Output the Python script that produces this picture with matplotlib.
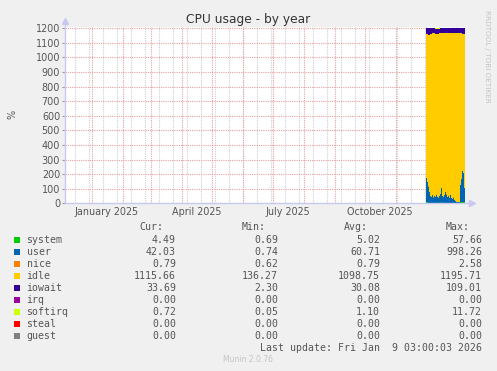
#!/usr/bin/env python3
"""Munin style CPU usage graph, yearly view."""

from datetime import datetime, timedelta

import matplotlib

matplotlib.use("Agg")
import matplotlib.dates as mdates
import matplotlib.pyplot as plt
import numpy as np
from matplotlib.patches import Rectangle

# ─── Data ───────────────────────────────────────────────────────────────────

SERIES = ["system", "user", "nice", "idle", "iowait", "irq", "softirq", "steal", "guest"]
COLORS = ["#00cc00", "#0066b3", "#ff8000", "#ffcc00", "#330099",
          "#990099", "#ccff00", "#ff0000", "#808080"]

# daily averages from 2025-12-01 onwards
system = [6, 6, 5, 5, 4, 4, 5, 4, 4, 4, 5, 4, 4, 4, 5, 7, 4, 4, 5, 5,
          5, 4, 4, 4, 5, 4, 4, 4, 4, 3, 3, 3, 3, 3, 8, 9, 10, 10, 6, 5]
user = [170, 140, 110, 70, 45, 40, 50, 35, 45, 40, 50, 40, 35, 45, 60, 95, 45, 40, 50, 70,
        55, 40, 45, 30, 50, 30, 25, 35, 20, 15, 5, 3, 3, 5, 120, 160, 210, 200, 100, 75]
nice = [0.8] * 40
idle = [987.2, 1014.2, 1041.2, 1081.2, 1109.2, 1116.2, 1113.2, 1131.2, 1121.2, 1119.2,
        1106.2, 1115.2, 1124.2, 1116.2, 1103.2, 1066.2, 1121.2, 1124.2, 1115.2, 1095.2,
        1108.2, 1122.2, 1121.2, 1134.2, 1113.2, 1136.2, 1141.2, 1129.2, 1144.2, 1152.2,
        1160.2, 1160.2, 1162.2, 1162.2, 1040.2, 999.2, 940.2, 948.2, 1057.2, 1084.2]
iowait = [35, 38, 42, 42, 40, 38, 30, 28, 28, 30, 30, 32, 30, 28, 30, 30, 28, 30, 28, 28,
          30, 32, 28, 30, 30, 28, 28, 30, 30, 28, 30, 32, 30, 28, 30, 30, 38, 40, 35, 34]
irq = [0] * 40
softirq = [1, 1, 1, 1, 1, 1, 1, 1, 1, 6, 8, 8, 6, 6, 1, 1, 1, 1, 1, 1,
           1, 1, 1, 1, 1, 1, 1, 1, 1, 1, 1, 1, 1, 1, 1, 1, 1, 1, 1, 1]
steal = [0] * 40
guest = [0] * 40

CUR = ["4.49", "42.03", "0.79", "1115.66", "33.69", "0.00", "0.72", "0.00", "0.00"]
MIN = ["0.69", "0.74", "0.62", "136.27", "2.30", "0.00", "0.05", "0.00", "0.00"]
AVG = ["5.02", "60.71", "0.79", "1098.75", "30.08", "0.00", "1.10", "0.00", "0.00"]
MAX = ["57.66", "998.26", "2.58", "1195.71", "109.01", "0.00", "11.72", "0.00", "0.00"]

Y_TICKS = list(range(0, 1300, 100))
X_LABELS = ["January 2025", "April 2025", "July 2025", "October 2025"]

DATA_START = datetime(2025, 12, 1)
END = datetime(2026, 1, 9, 3, 0, 3)
START = END - timedelta(days=400)

# ─── Style ──────────────────────────────────────────────────────────────────

W, H = 497, 371
BG = "#f0f0f0"
TXT = "#555555"
AXIS_C = "#c8c8f0"
MGRID = "#e8a0a0"
GRID = "#cfcfcf"


def fx(x):
    return x / W


def fy(y):
    return 1 - y / H


def draw_graph(fig):
    ax = fig.add_axes([fx(65), fy(203.3), 400 / W, (203.3 - 27) / H])
    ax.set_facecolor("white")
    for sp in ax.spines.values():
        sp.set_visible(False)

    days = [mdates.date2num(DATA_START + timedelta(days=i)) for i in range(len(user))]
    layers = [system, user, nice, idle, iowait, irq, softirq, steal, guest]
    bottom = np.zeros(len(days))
    for vals, col in zip(layers, COLORS):
        vals = np.asarray(vals, dtype=float)
        ax.bar(days, vals, width=1.0, bottom=bottom, align="edge",
               color=col, linewidth=0, zorder=3)
        bottom += vals

    # grid
    dash = (0, (1, 1))
    d = datetime(2024, 12, 15)
    while d < END:
        ax.axvline(mdates.date2num(d), color=GRID, lw=0.8, ls=dash, zorder=1)
        d += timedelta(days=14)
    for yr, mo in [(2025, m) for m in range(1, 13)] + [(2026, 1)]:
        ax.axvline(mdates.date2num(datetime(yr, mo, 1)), color=MGRID, lw=0.8, ls=dash, zorder=2)
    for yv in Y_TICKS[1:]:
        ax.axhline(yv, color=MGRID, lw=0.8, ls=dash, zorder=2)

    ax.set_xlim(mdates.date2num(START), mdates.date2num(END))
    ax.set_ylim(0, 1209)

    ax.set_yticks(Y_TICKS)
    ax.set_yticklabels([str(v) for v in Y_TICKS])
    ax.tick_params(axis="y", length=2, width=0.8, color="#999999",
                   labelsize=6.9, labelcolor=TXT, pad=1.5)

    mids = [mdates.date2num(datetime(2025, m, 16)) for m in (1, 4, 7, 10)]
    ax.set_xticks(mids)
    ax.set_xticklabels(X_LABELS)
    ax.tick_params(axis="x", length=0, labelsize=6.9, labelcolor=TXT, pad=3)

    # axes with arrows
    ax.plot([0, 0], [0, 1.03], transform=ax.transAxes, color=AXIS_C,
            lw=1, clip_on=False, zorder=5)
    ax.plot([0], [1.035], marker="^", ms=4, color=AXIS_C, transform=ax.transAxes,
            clip_on=False, zorder=5)
    ax.plot([0, 1.015], [0, 0], transform=ax.transAxes, color=AXIS_C,
            lw=1, clip_on=False, zorder=5)
    ax.plot([1.018], [0], marker=">", ms=4, color=AXIS_C, transform=ax.transAxes,
            clip_on=False, zorder=5)
    return ax


def draw_legend(fig):
    mono = dict(family="DejaVu Sans Mono", fontsize=7.15, color=TXT)
    hy = fy(227)
    for txt, xr in zip(["Cur:", "Min:", "Avg:", "Max:"], [163, 266, 368, 470]):
        fig.text(fx(xr), hy, txt, ha="right", va="center", **mono)

    for i, name in enumerate(SERIES):
        yy = 240 + i * 11.95
        fig.patches.append(Rectangle((fx(14), fy(yy + 3)), 6 / W, 6 / H,
                                     transform=fig.transFigure, facecolor=COLORS[i],
                                     edgecolor="none"))
        fig.text(fx(26.5), fy(yy), name, ha="left", va="center", **mono)
        for col, xr in zip([CUR, MIN, AVG, MAX], [176, 278, 380, 482]):
            fig.text(fx(xr), fy(yy), col[i], ha="right", va="center", **mono)

    fig.text(fx(482), fy(347.7), "Last update: Fri Jan  9 03:00:03 2026",
             ha="right", va="center", **mono)
    fig.text(fx(248), fy(360), "Munin 2.0.76", ha="center", va="center",
             fontsize=5.5, color="#c4c4c4")


def main():
    fig = plt.figure(figsize=(W / 100, H / 100), dpi=100, facecolor=BG)
    draw_graph(fig)
    fig.text(fx(248), fy(19), "CPU usage - by year", ha="center", va="center",
             fontsize=8.8, color="#333333")
    fig.text(fx(12), fy(114), "%", ha="center", va="center", rotation=90,
             fontsize=7, color=TXT)
    fig.text(fx(487), fy(10), "RRDTOOL / TOBI OETIKER", ha="center", va="top",
             rotation=270, fontsize=5.2, color="#c4c4c4")
    draw_legend(fig)
    fig.savefig("out.png", dpi=100, facecolor=fig.get_facecolor())
    plt.close(fig)


if __name__ == "__main__":
    main()
